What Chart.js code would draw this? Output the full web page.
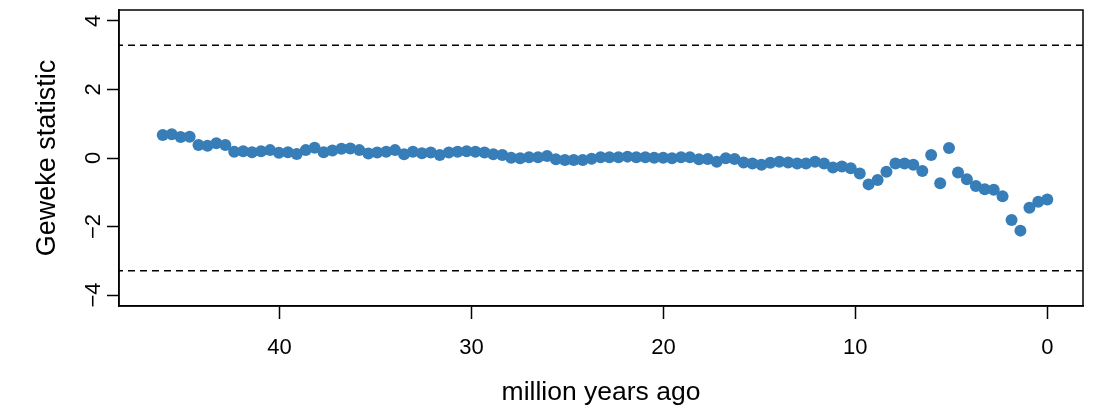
<!DOCTYPE html>
<html>
<head>
<meta charset="utf-8">
<script src="https://cdn.jsdelivr.net/npm/chart.js@4/dist/chart.umd.min.js"></script>
<style>
  html, body { margin: 0; padding: 0; background: #fff; }
  #wrap { width: 1098px; height: 417px; }
</style>
</head>
<body>
<div id="wrap"><canvas id="chart" width="1098" height="417"></canvas></div>
<script>
// ages (million years ago) of each sample
const ages = [
  46.08, 45.61, 45.15, 44.68, 44.22, 43.75, 43.29, 42.82, 42.36, 41.89,
  41.43, 40.96, 40.49, 40.03, 39.56, 39.10, 38.63, 38.17, 37.70, 37.24,
  36.77, 36.31, 35.84, 35.37, 34.91, 34.44, 33.98, 33.51, 33.05, 32.58,
  32.12, 31.65, 31.18, 30.72, 30.25, 29.79, 29.32, 28.86, 28.39, 27.93,
  27.46, 27.00, 26.53, 26.06, 25.60, 25.13, 24.67, 24.20, 23.74, 23.27,
  22.81, 22.34, 21.87, 21.41, 20.94, 20.48, 20.01, 19.55, 19.08, 18.62,
  18.15, 17.69, 17.22, 16.75, 16.29, 15.82, 15.36, 14.89, 14.43, 13.96,
  13.50, 13.03, 12.57, 12.10, 11.63, 11.17, 10.70, 10.24, 9.77, 9.31,
  8.84, 8.38, 7.91, 7.44, 6.98, 6.51, 6.05, 5.58, 5.12, 4.65,
  4.19, 3.72, 3.26, 2.79, 2.33, 1.86, 1.40, 0.93, 0.47, 0.00
];

// Geweke statistic at each age
const geweke = [
  0.67, 0.69, 0.61, 0.62, 0.38, 0.36, 0.43, 0.38, 0.18, 0.20,
  0.17, 0.20, 0.23, 0.15, 0.17, 0.12, 0.23, 0.30, 0.17, 0.22,
  0.27, 0.28, 0.23, 0.13, 0.16, 0.18, 0.23, 0.11, 0.18, 0.14,
  0.16, 0.09, 0.16, 0.18, 0.20, 0.18, 0.16, 0.11, 0.09, 0.01,
  -0.01, 0.02, 0.02, 0.06, -0.04, -0.06, -0.06, -0.06, -0.02, 0.02,
  0.02, 0.02, 0.04, 0.02, 0.02, 0.01, 0.01, -0.01, 0.02, 0.02,
  -0.04, -0.03, -0.11, -0.01, -0.03, -0.13, -0.16, -0.20, -0.14, -0.11,
  -0.13, -0.16, -0.16, -0.11, -0.16, -0.28, -0.25, -0.30, -0.45, -0.77,
  -0.64, -0.40, -0.16, -0.16, -0.20, -0.38, 0.09, -0.74, 0.29, -0.42,
  -0.62, -0.82, -0.91, -0.93, -1.12, -1.81, -2.12, -1.45, -1.28, -1.21
];

const xTicks = [40, 30, 20, 10, 0];
const yTicks = [-4, -2, 0, 2, 4];
const cutoff = 3.29;

const xMin = -1.86, xMax = 48.36;
const yMin = -4.32, yMax = 4.32;

const FONT = "'Liberation Sans', Arial, Helvetica, sans-serif";

const points = ages.map((a, i) => ({ x: a, y: geweke[i] }));

// frame box + rotated y tick labels, R style
const rStyle = {
  id: 'rStyle',
  afterDraw(chart) {
    const { ctx, chartArea, scales } = chart;
    ctx.save();
    ctx.strokeStyle = '#000';
    ctx.lineWidth = 1.5;
    ctx.strokeRect(chartArea.left, chartArea.top,
      chartArea.right - chartArea.left, chartArea.bottom - chartArea.top);

    ctx.fillStyle = '#000';
    ctx.font = '22px ' + FONT;
    ctx.textAlign = 'center';
    ctx.textBaseline = 'middle';
    yTicks.forEach(v => {
      const y = scales.y.getPixelForValue(v);
      ctx.save();
      ctx.translate(94, y);
      ctx.rotate(-Math.PI / 2);
      ctx.fillText(v < 0 ? '\u2212' + Math.abs(v) : String(v), 0, 0);
      ctx.restore();
    });
    ctx.restore();
  }
};

new Chart(document.getElementById('chart'), {
  type: 'scatter',
  data: {
    datasets: [
      {
        data: points,
        pointRadius: 6,
        pointHoverRadius: 6,
        backgroundColor: '#377EB8',
        borderWidth: 0
      },
      {
        type: 'line',
        data: [{ x: xMin, y: cutoff }, { x: xMax, y: cutoff }],
        borderColor: '#000',
        borderWidth: 1.5,
        borderDash: [7, 5],
        pointRadius: 0
      },
      {
        type: 'line',
        data: [{ x: xMin, y: -cutoff }, { x: xMax, y: -cutoff }],
        borderColor: '#000',
        borderWidth: 1.5,
        borderDash: [7, 5],
        pointRadius: 0
      }
    ]
  },
  options: {
    responsive: false,
    animation: false,
    devicePixelRatio: 1,
    layout: { padding: { top: 10, right: 15, left: 0, bottom: 0 } },
    plugins: { legend: { display: false }, tooltip: { enabled: false } },
    scales: {
      x: {
        type: 'linear',
        reverse: true,
        min: xMin,
        max: xMax,
        afterBuildTicks: s => { s.ticks = xTicks.map(v => ({ value: v })); },
        afterFit: s => { s.height = 111; },
        border: { display: true, color: '#000', width: 1.5 },
        grid: { drawOnChartArea: false, drawTicks: true, tickLength: 13, tickColor: '#000', tickWidth: 1.5 },
        ticks: {
          color: '#000',
          autoSkip: false,
          maxRotation: 0,
          padding: 16,
          font: { family: FONT, size: 22 },
          callback: v => String(v)
        },
        title: {
          display: true,
          text: 'million years ago',
          color: '#000',
          font: { family: FONT, size: 26.5 },
          padding: { top: 0, bottom: 8 }
        }
      },
      y: {
        min: yMin,
        max: yMax,
        afterBuildTicks: s => { s.ticks = yTicks.map(v => ({ value: v })); },
        afterFit: s => { s.width = 119; },
        border: { display: true, color: '#000', width: 1.5 },
        grid: { drawOnChartArea: false, drawTicks: true, tickLength: 12, tickColor: '#000', tickWidth: 1.5 },
        ticks: { display: false },
        title: {
          display: true,
          text: 'Geweke statistic',
          color: '#000',
          font: { family: FONT, size: 27 },
          padding: { top: 31, bottom: 0 }
        }
      }
    }
  },
  plugins: [rStyle]
});
</script>
</body>
</html>
